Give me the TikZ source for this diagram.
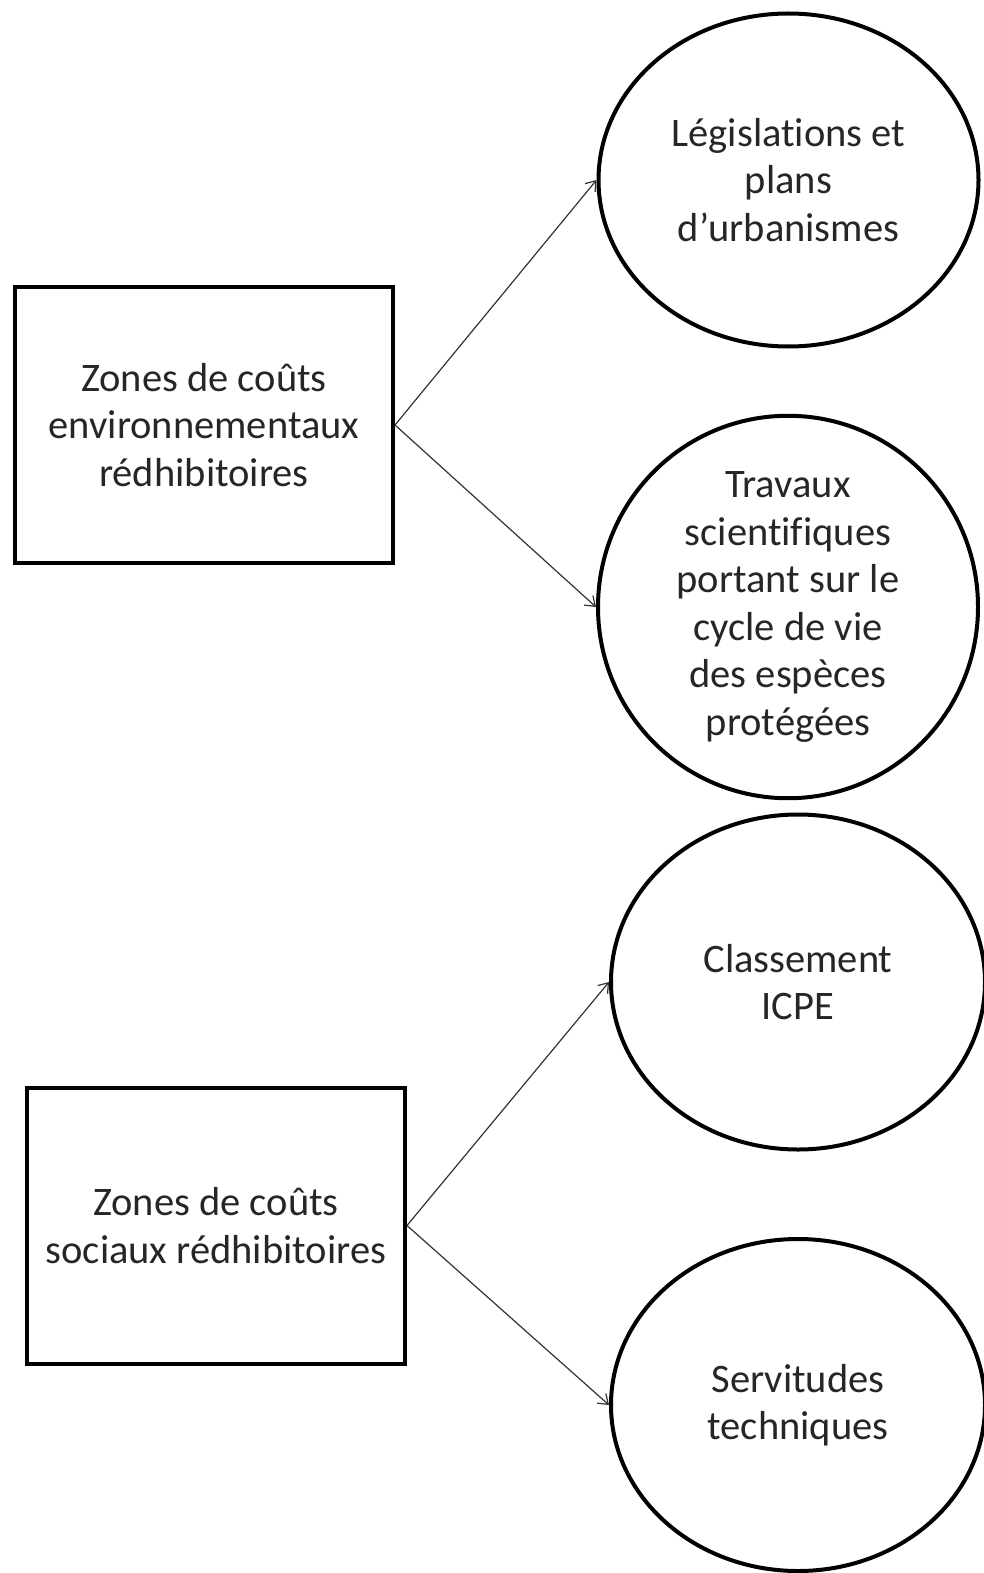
\documentclass[tikz,border=0pt]{standalone}
\usepackage{fontspec}
\setmainfont{Carlito}[Ligatures=NoCommon]
\usetikzlibrary{shapes.geometric,arrows.meta}
\begin{document}
\begin{tikzpicture}[x=1pt,y=-1pt,
  every node/.style={font=\fontsize{40.5}{47.5}\selectfont, text=black!85, align=center, inner sep=0pt},
  zonebox/.style={draw=black, line width=4pt, rectangle, minimum width=378pt, minimum height=276pt},
  oval/.style={draw=black, line width=4pt, ellipse, minimum width=380pt, minimum height=333pt},
  link/.style={draw=black!80, line width=1.2pt, -{Straight Barb[length=9pt,width=13pt,line width=1.2pt]}}
]
\useasboundingbox (0,0) rectangle (984,1573);
\node[zonebox] (b1) at (204,425) {Zones de coûts\\environnementaux\\rédhibitoires};
\node[zonebox] (b2) at (216,1225.5) {Zones de coûts\\sociaux rédhibitoires};
\node[oval] (e1) at (788.5,180) {Législations et\\plans\\d’urbanismes};
\node[oval] (e2) at (788,607) {Travaux\\scientifiques\\portant  sur le\\cycle de vie\\des espèces\\protégées};
\node[oval, minimum width=374pt, minimum height=335pt] (e3) at (798,982) {Classement\\ICPE};
\node[oval, minimum width=374pt, minimum height=332pt] (e4) at (798,1405) {Servitudes\\techniques};
\draw[link] (b1.east) -- (e1.west);
\draw[link] (b1.east) -- (e2.west);
\draw[link] (b2.east) -- (e3.west);
\draw[link] (b2.east) -- (e4.west);
\end{tikzpicture}
\end{document}
